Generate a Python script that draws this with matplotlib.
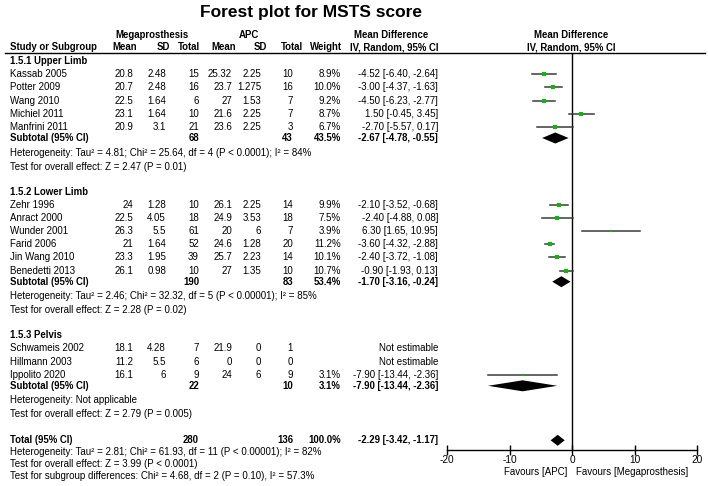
#Forest plot for MSTS score (Megaprosthesis vs APC)

import matplotlib.pyplot as plt

plt.rcParams['font.family'] = ['Liberation Sans', 'DejaVu Sans']
FS = 7.0
FSB = 6.9

# estudios individuales
study = ["Kassab 2005", "Potter 2009", "Wang 2010", "Michiel 2011", "Manfrini 2011",
         "Zehr 1996", "Anract 2000", "Wunder 2001", "Farid 2006", "Jin Wang 2010", "Benedetti 2013",
         "Schwameis 2002", "Hillmann 2003", "Ippolito 2020"]
group_of = [0, 0, 0, 0, 0, 1, 1, 1, 1, 1, 1, 2, 2, 2]
mega_mean = [20.8, 20.7, 22.5, 23.1, 20.9, 24, 22.5, 26.3, 21, 23.3, 26.1, 18.1, 11.2, 16.1]
mega_sd = [2.48, 2.48, 1.64, 1.64, 3.1, 1.28, 4.05, 5.5, 1.64, 1.95, 0.98, 4.28, 5.5, 6]
mega_n = [15, 16, 6, 10, 21, 10, 18, 61, 52, 39, 10, 7, 6, 9]
apc_mean = [25.32, 23.7, 27, 21.6, 23.6, 26.1, 24.9, 20, 24.6, 25.7, 27, 21.9, 0, 24]
apc_sd = [2.25, 1.275, 1.53, 2.25, 2.25, 2.25, 3.53, 6, 1.28, 2.23, 1.35, 0, 0, 6]
apc_n = [10, 16, 7, 7, 3, 14, 18, 7, 20, 14, 10, 1, 0, 9]
weight = [8.9, 10.0, 9.2, 8.7, 6.7, 9.9, 7.5, 3.9, 11.2, 10.1, 10.7, None, None, 3.1]
md = [-4.52, -3.00, -4.50, 1.50, -2.70, -2.10, -2.40, 6.30, -3.60, -2.40, -0.90, None, None, -7.90]
ci_lo = [-6.40, -4.37, -6.23, -0.45, -5.57, -3.52, -4.88, 1.65, -4.32, -3.72, -1.93, None, None, -13.44]
ci_hi = [-2.64, -1.63, -2.77, 3.45, 0.17, -0.68, 0.08, 10.95, -2.88, -1.08, 0.13, None, None, -2.36]

# subgrupos
sub_name = ["1.5.1 Upper Limb", "1.5.2 Lower Limb", "1.5.3 Pelvis"]
sub_n_mega = [68, 190, 22]
sub_n_apc = [43, 83, 10]
sub_weight = [43.5, 53.4, 3.1]
sub_md = [-2.67, -1.70, -7.90]
sub_lo = [-4.78, -3.16, -13.44]
sub_hi = [-0.55, -0.24, -2.36]
sub_het = ["Heterogeneity: Tau² = 4.81; Chi² = 25.64, df = 4 (P < 0.0001); I² = 84%",
           "Heterogeneity: Tau² = 2.46; Chi² = 32.32, df = 5 (P < 0.00001); I² = 85%",
           "Heterogeneity: Not applicable"]
sub_test = ["Test for overall effect: Z = 2.47 (P = 0.01)",
            "Test for overall effect: Z = 2.28 (P = 0.02)",
            "Test for overall effect: Z = 2.79 (P = 0.005)"]

# total
tot_n_mega = 280
tot_n_apc = 136
tot_weight = 100.0
tot_md, tot_lo, tot_hi = -2.29, -3.42, -1.17
tot_notes = ["Heterogeneity: Tau² = 2.81; Chi² = 61.93, df = 11 (P < 0.00001); I² = 82%",
             "Test for overall effect: Z = 3.99 (P < 0.0001)",
             "Test for subgroup differences: Chi² = 4.68, df = 2 (P = 0.10), I² = 57.3%"]

xticks = [-20, -10, 0, 10, 20]

# columnas (borde derecho, px)
X_NAME = 10
COLS = [133, 166, 199, 232, 261, 293, 341]
X_EFF = 438

fig = plt.figure(figsize=(7.08, 4.86), dpi=100)
tx = fig.add_axes([0, 0, 1, 1])
tx.set_xlim(0, 708)
tx.set_ylim(486, 0)
tx.axis('off')

fx = fig.add_axes([447 / 708, (486 - 450) / 486, 250 / 708, 397 / 486])
fx.set_xlim(-20, 20)
fx.set_ylim(450, 53)
fx.patch.set_alpha(0)
for s in ["left", "right", "top"]:
    fx.spines[s].set_visible(False)
fx.set_yticks([])
fx.set_xticks(xticks)
fx.set_xticklabels([str(t) for t in xticks])
fx.tick_params(axis='x', direction='inout', length=7, width=1, pad=0, labelsize=FS + 0.3)
fx.spines["bottom"].set_linewidth(1)
fx.axvline(0, color="black", lw=1)


def put(x, y, s, ha="right", bold=False):
    tx.text(x, y, s, ha=ha, va="center", fontsize=FSB if bold else FS,
            fontweight="bold" if bold else "normal")


def eff(m, lo, hi):
    return f"{m:.2f} [{lo:.2f}, {hi:.2f}]"


def diamond(m, lo, hi, y, h=5.5):
    fx.fill([lo, m, hi, m], [y, y - h, y, y + h], color="black", lw=0, clip_on=False)


tx.text(311, 12, "Forest plot for MSTS score", ha="center", va="center",
        fontsize=12.5, fontweight="bold")

# cabecera
put(152, 35, "Megaprosthesis", ha="center", bold=True)
put(249, 35, "APC", ha="center", bold=True)
put(391, 35, "Mean Difference", ha="center", bold=True)
put(571, 35, "Mean Difference", ha="center", bold=True)
put(X_NAME, 47, "Study or Subgroup", ha="left", bold=True)
for x, s in zip([137, 170, 200, 236, 267, 303, 342], ["Mean", "SD", "Total", "Mean", "SD", "Total", "Weight"]):
    put(x, 47, s, bold=True)
put(X_EFF, 47, "IV, Random, 95% CI", bold=True)
put(571, 47, "IV, Random, 95% CI", ha="center", bold=True)
tx.axhline(53, xmin=5 / 708, xmax=705 / 708, color="black", lw=1)

y = 61
for g in range(len(sub_name)):
    put(X_NAME, y, sub_name[g], ha="left", bold=True)
    for i in [k for k in range(len(study)) if group_of[k] == g]:
        y += 13.2
        put(X_NAME, y, study[i], ha="left")
        vals = [f"{mega_mean[i]:g}", f"{mega_sd[i]:g}", str(mega_n[i]),
                f"{apc_mean[i]:g}", f"{apc_sd[i]:g}", str(apc_n[i])]
        for x, s in zip(COLS, vals):
            put(x, y, s)
        if md[i] is None:
            put(X_EFF, y, "Not estimable")
            continue
        put(COLS[6], y, f"{weight[i]:.1f}%")
        put(X_EFF, y, eff(md[i], ci_lo[i], ci_hi[i]))
        fx.plot([ci_lo[i], ci_hi[i]], [y, y], color="#3a3a3a", lw=1.1, clip_on=False)
        fx.plot(md[i], y, "s", color="#00c000", ms=weight[i] ** 0.5, mew=0, clip_on=False)
    y += 11
    put(X_NAME, y, "Subtotal (95% CI)", ha="left", bold=True)
    put(COLS[2], y, str(sub_n_mega[g]), bold=True)
    put(COLS[5], y, str(sub_n_apc[g]), bold=True)
    put(COLS[6], y, f"{sub_weight[g]:.1f}%", bold=True)
    put(X_EFF, y, eff(sub_md[g], sub_lo[g], sub_hi[g]), bold=True)
    diamond(sub_md[g], sub_lo[g], sub_hi[g], y)
    y += 14.5
    put(X_NAME, y, sub_het[g], ha="left")
    y += 14
    put(X_NAME, y, sub_test[g], ha="left")
    if g < len(sub_name) - 1:
        y += 25

y += 26
put(X_NAME, y, "Total (95% CI)", ha="left", bold=True)
put(COLS[2], y, str(tot_n_mega), bold=True)
put(COLS[5], y, str(tot_n_apc), bold=True)
put(COLS[6], y, f"{tot_weight:.1f}%", bold=True)
put(X_EFF, y, eff(tot_md, tot_lo, tot_hi), bold=True)
diamond(tot_md, tot_lo, tot_hi, y)
for s in tot_notes:
    y += 11.8
    put(X_NAME, y, s, ha="left")

put(567, 472, "Favours [APC]")
put(576, 472, "Favours [Megaprosthesis]", ha="left")

fig.savefig("out.png", dpi=100)
